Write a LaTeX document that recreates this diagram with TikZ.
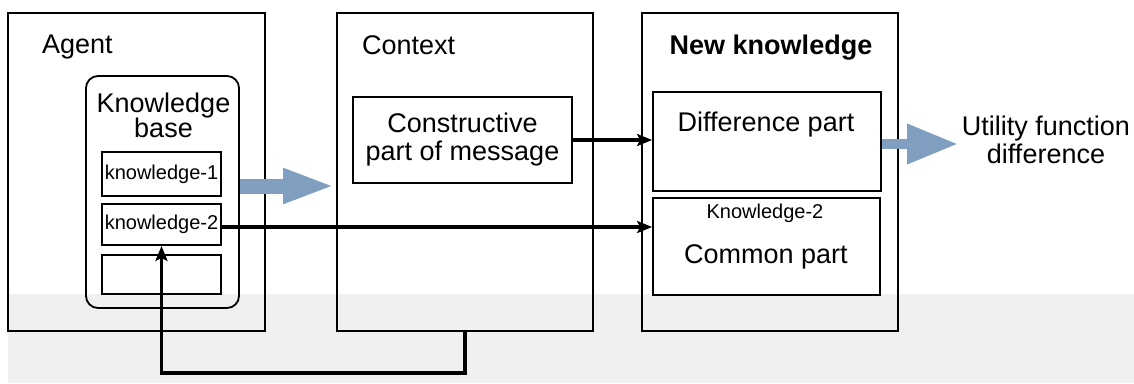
\documentclass[tikz,border=0pt]{standalone}
\usepackage{fontspec}
\setmainfont{Liberation Sans}
\usetikzlibrary{arrows.meta, positioning, calc}

\definecolor{flowblue}{RGB}{128,158,192}
\definecolor{lowgray}{RGB}{240,240,240}

\tikzset{
  panel/.style={draw, line width=2pt, minimum width=256pt, minimum height=318pt},
  partbox/.style={draw, line width=1.8pt, inner sep=0pt},
  txt/.style={font=\fontsize{27}{28}\selectfont, align=center, inner sep=0pt},
  smalltxt/.style={font=\fontsize{20}{22}\selectfont, inner sep=0pt},
  flowline/.style={draw, line width=3.2pt, -{Stealth[length=15pt,width=12pt,inset=3pt]}},
}

\begin{document}
\begin{tikzpicture}[x=1pt,y=-1pt]
    \useasboundingbox (0,0) rectangle (1134,383);
    \fill[lowgray] (8,294) rectangle (1134,383);

    % three panels
    \node[panel, minimum width=257pt] (agent) at (136.5,172) {};
    \node[panel] (context) at (465,172) {};
    \node[panel] (newk) at (770,172) {};
    \node[txt, anchor=west] at (42,47) {Agent};
    \node[txt, anchor=west] at (362,45) {Context};
    \node[txt, font=\fontsize{27}{28}\selectfont\bfseries] at (771,48) {New knowledge};

    % knowledge base
    \node[partbox, rounded corners=12pt, minimum width=153pt, minimum height=232pt] (kb) at (162.5,192) {};
    \node[txt, text depth=0pt] at (163.5,115) {Knowledge\\[-3pt]base};
    \node[partbox, minimum width=119pt, minimum height=44pt, smalltxt] (k1) at (161.5,174) {knowledge-1};
    \node[partbox, minimum width=119pt, minimum height=41pt, smalltxt] (k2) at (161.5,224.5) {knowledge-2};
    \node[partbox, minimum width=119pt, minimum height=39pt] (k3) at (161.5,274.5) {};

    % context part
    \node[partbox, minimum width=219pt, minimum height=86pt, txt] (cons) at (462.5,140) {Constructive\\part of message};

    % new knowledge parts
    \node[partbox, minimum width=228pt, minimum height=99pt] (diff) at (767,141.5) {};
    \node[txt] at (766,125) {Difference part};
    \node[partbox, minimum width=227pt, minimum height=97pt] (common) at (766.5,246.5) {};
    \node[smalltxt] at (765,213) {Knowledge-2};
    \node[txt] at (766,257) {Common part};

    \node[txt] (utility) at (1046,140) {Utility function\\difference};

    % wide arrows
    \coordinate (kbtip) at (335,186);
    \coordinate (utiltip) at (958,144);
    \draw[flowblue, line width=15pt, -{Triangle[length=52pt,width=32pt]}] (kb.east |- kbtip) -- (kbtip);
    \draw[flowblue, line width=10pt, -{Triangle[length=51pt,width=38pt]}] (diff.east |- utiltip) -- (utiltip);

    % thin arrows
    \draw[flowline] (cons.east) -- (cons.east -| diff.west);
    \draw[flowline] ([yshift=-2.5pt]k2.east) -- ([yshift=-2.5pt]k2.east -| common.west);
    \draw[flowline] (context.south) -- ++(0,41) -| (k2.south);
\end{tikzpicture}
\end{document}
